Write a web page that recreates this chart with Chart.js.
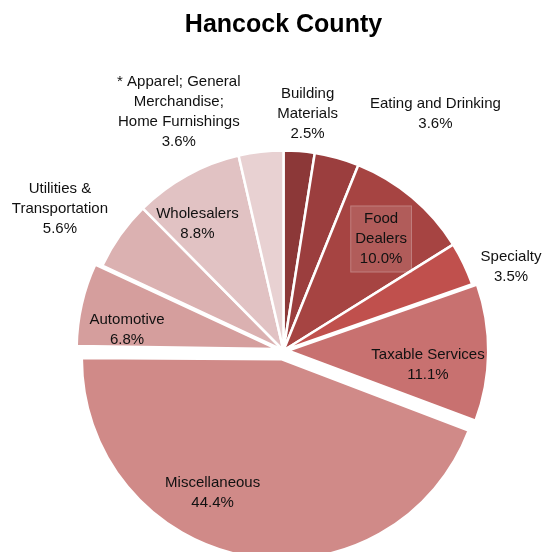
<!DOCTYPE html>
<html lang="en">
<head>
  <meta charset="UTF-8" />
  <title>Hancock County</title>
  <script src="https://cdn.jsdelivr.net/npm/chart.js"></script>
  <style>
    html, body { margin: 0; padding: 0; background: #fff; }
    #wrap { position: relative; width: 545px; height: 552px; }
  </style>
</head>
<body>
  <div id="wrap"><canvas id="pie"></canvas></div>

  <script>
    // data (percent of sales)
    const categories = [
      ['Building', 'Materials'],
      ['Eating and Drinking'],
      ['Food', 'Dealers'],
      ['Specialty'],
      ['Taxable Services'],
      ['Miscellaneous'],
      ['Automotive'],
      ['Utilities &', 'Transportation'],
      ['Wholesalers'],
      ['* Apparel; General', 'Merchandise;', 'Home Furnishings']
    ];
    const shares = [2.5, 3.6, 10.0, 3.5, 11.1, 44.4, 6.8, 5.6, 8.8, 3.6];

    // styling
    const sliceColors = ['#8c3838', '#9b3e3e', '#a64442', '#c0504d', '#c87170',
                         '#d08a88', '#d59e9d', '#dbb1b1', '#e1c2c3', '#e8d1d2'];
    const explode = [0, 0, 0, 0, 19, 36, 28, 0, 0, 0];
    // label spot: [radius factor, angle shift in degrees]
    const labelSpots = [[1.19, 1.3], [1.406, 17.2], [0.741, 1.2], [1.212, 5.5], [0.726, 5.0],
                        [0.796, 15.8], [0.789, -5.4], [1.323, -2.9], [0.765, -5.4], [1.303, -17.2]];
    const boxedLabel = 2;
    const RADIUS = 200;
    const FONT = '15px "Liberation Sans", Arial, sans-serif';
    const LINE = 20;

    // keep exploded slices at the same radius (chart.js grows them a bit)
    const keepRadius = {
      id: 'keepRadius',
      beforeDatasetsDraw(chart) {
        chart.getDatasetMeta(0).data.forEach(arc => {
          const o = (arc.options.offset || 0) / 4;
          const fix = 1 - Math.sin(Math.min(Math.PI, arc.circumference));
          arc.outerRadius = RADIUS - o * fix;
        });
      }
    };

    const sliceLabels = {
      id: 'sliceLabels',
      afterDatasetsDraw(chart) {
        const ctx = chart.ctx;
        const arcs = chart.getDatasetMeta(0).data;
        ctx.save();
        ctx.font = FONT;
        ctx.textAlign = 'center';
        ctx.textBaseline = 'middle';
        arcs.forEach((arc, i) => {
          const [rf, shift] = labelSpots[i];
          const a = (arc.startAngle + arc.endAngle) / 2 + shift * Math.PI / 180;
          const cx = arc.x + Math.cos(a) * RADIUS * rf;
          const cy = arc.y + Math.sin(a) * RADIUS * rf;
          const lines = categories[i].concat(shares[i].toFixed(1) + '%');
          const top = cy - (lines.length - 1) * LINE / 2;
          if (i === boxedLabel) {
            const w = Math.max(...lines.map(l => ctx.measureText(l).width)) + 10;
            const h = lines.length * LINE + 7;
            ctx.fillStyle = 'rgba(255,255,255,0.13)';
            ctx.strokeStyle = 'rgba(255,255,255,0.22)';
            ctx.lineWidth = 1;
            ctx.fillRect(cx - w / 2, cy - h / 2, w, h);
            ctx.strokeRect(cx - w / 2 + 0.5, cy - h / 2 + 0.5, w - 1, h - 1);
          }
          ctx.fillStyle = '#111';
          lines.forEach((l, k) => ctx.fillText(l, cx, top + k * LINE));
        });
        ctx.restore();
      }
    };

    new Chart(document.getElementById('pie'), {
      type: 'pie',
      data: {
        labels: categories,
        datasets: [{
          data: shares,
          backgroundColor: sliceColors,
          borderColor: '#ffffff',
          borderWidth: 2.5,
          offset: explode,
          clip: false
        }]
      },
      options: {
        responsive: true,
        maintainAspectRatio: false,
        animation: false,
        events: [],
        radius: RADIUS,
        layout: { padding: { left: 22, right: 0, top: 0, bottom: 0 } },
        plugins: {
          legend: { display: false },
          tooltip: { enabled: false },
          title: {
            display: true,
            text: 'Hancock County',
            color: '#000',
            font: { family: '"Liberation Sans", Arial, sans-serif', size: 25, weight: 'bold' },
            padding: { top: 10, bottom: 109 }
          }
        }
      },
      plugins: [keepRadius, sliceLabels]
    });
  </script>
</body>
</html>
